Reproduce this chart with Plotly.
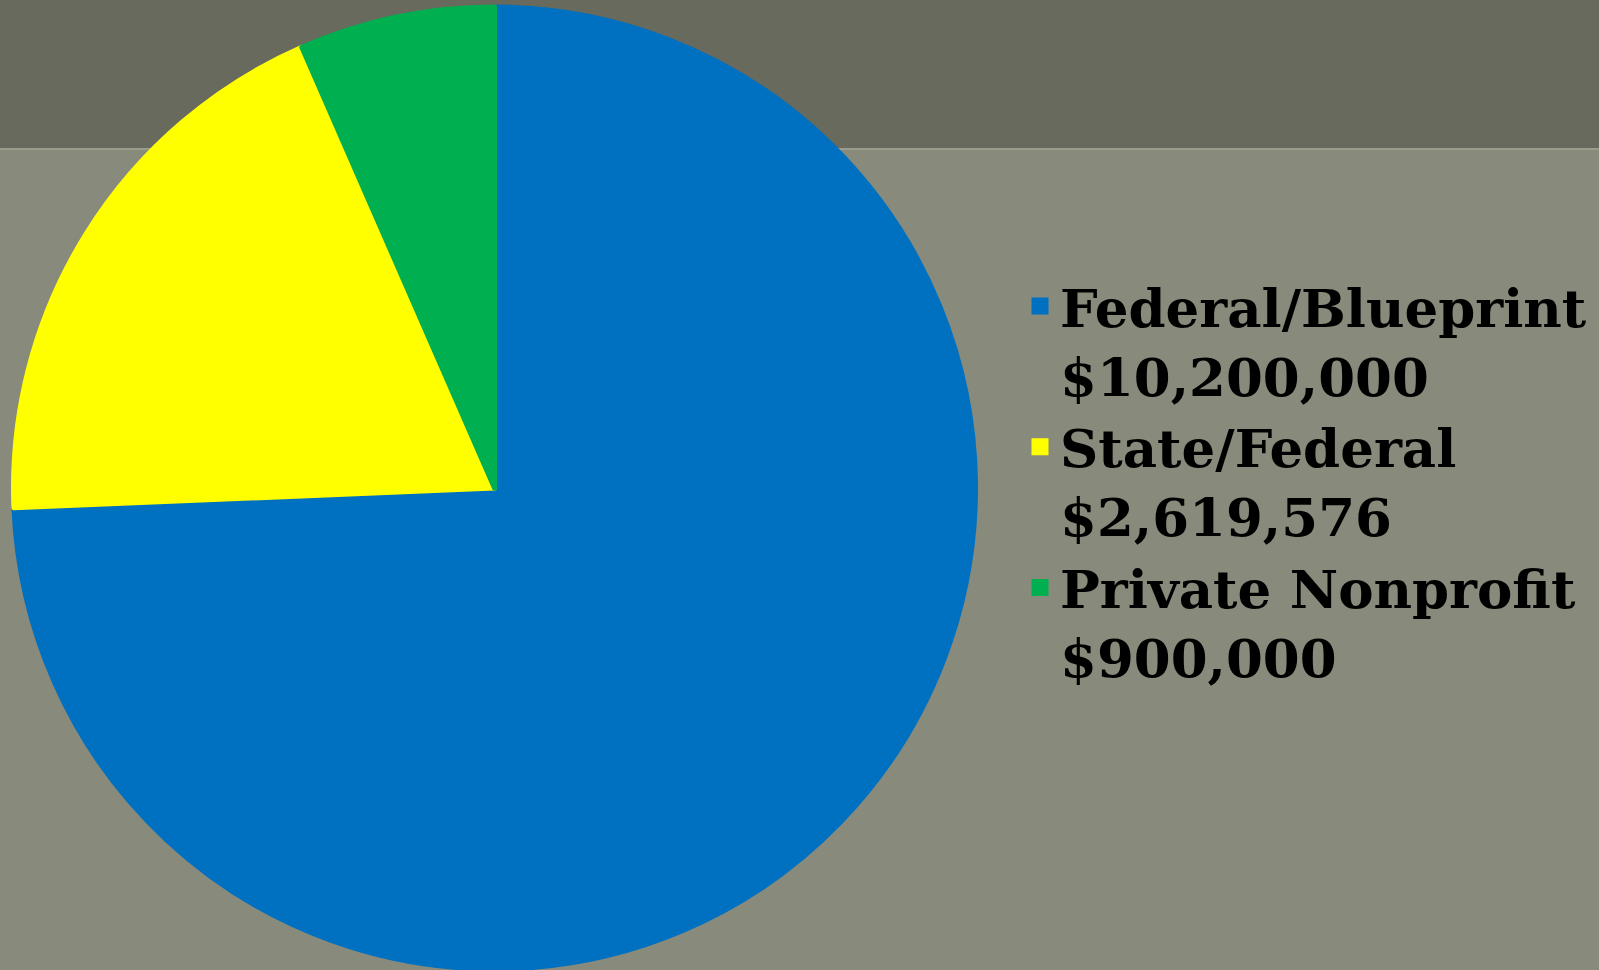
import plotly.graph_objects as go

labels = ["Federal/Blueprint", "State/Federal", "Private Nonprofit"]
amounts = [10200000, 2619576, 900000]
amount_text = ["$10,200,000", "$2,619,576", "$900,000"]
colors = ["#0070C0", "#FFFF00", "#00B050"]

W, H = 1599, 970

legend_names = [f"{l}<br>{a}" for l, a in zip(labels, amount_text)]

fig = go.Figure(go.Pie(
    labels=legend_names,
    values=amounts,
    marker=dict(colors=colors, line=dict(width=5, color=colors)),
    sort=False,
    direction="clockwise",
    rotation=0,
    textinfo="none",
    hoverinfo="label+value",
    domain=dict(x=[13 / W, 976 / W], y=[1 / H, (H - 7) / H]),
))

fig.update_layout(
    width=W, height=H,
    margin=dict(l=0, r=0, t=0, b=0),
    paper_bgcolor="#888b7b",
    plot_bgcolor="#888b7b",
    showlegend=True,
    legend=dict(
        x=1020 / W, y=1 - 265 / H, xanchor="left", yanchor="top",
        font=dict(family="DejaVu Serif", size=53, color="#000000", weight="bold"),
        bgcolor="rgba(0,0,0,0)",
        valign="top",
        tracegroupgap=0,
    ),
    shapes=[
        dict(type="rect", xref="paper", yref="paper", x0=0, x1=1,
             y0=1 - 148 / H, y1=1, fillcolor="#676a5d", line=dict(width=0), layer="below"),
        dict(type="line", xref="paper", yref="paper", x0=0, x1=1,
             y0=1 - 149 / H, y1=1 - 149 / H, line=dict(color="#9a9d8c", width=2), layer="below"),
    ],
)

fig.write_html(
    "out.html",
    config={"displayModeBar": False},
    post_script="document.body.style.margin='0';document.body.style.overflow='hidden';",
)
